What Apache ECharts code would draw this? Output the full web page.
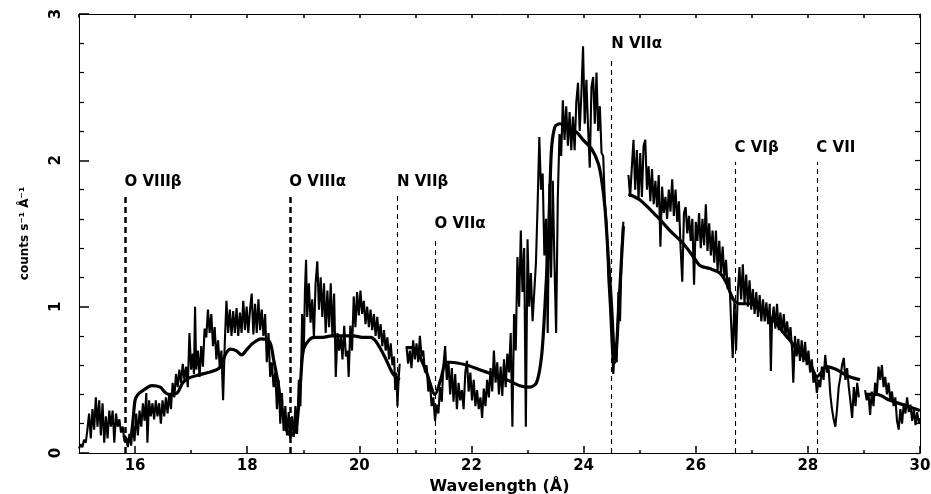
<!DOCTYPE html>
<html>
<head>
<meta charset="utf-8">
<script src="https://cdn.jsdelivr.net/npm/echarts@6/dist/echarts.min.js"></script>
<style>
html,body{margin:0;padding:0;background:#fff;}
#chart{width:931px;height:494px;}
</style>
</head>
<body>
<div id="chart"></div>
<script>
// ---- observed spectrum (wavelength Å, counts s^-1 Å^-1), four contiguous segments ----
const spec1 = [
[15.00,0.03],[15.03,0.06],[15.06,0.04],[15.09,0.09],[15.12,0.07],[15.15,0.16],[15.18,0.27],[15.21,0.10],
[15.24,0.30],[15.27,0.16],[15.30,0.38],[15.33,0.18],[15.36,0.36],[15.39,0.12],[15.42,0.34],[15.45,0.07],
[15.48,0.25],[15.51,0.10],[15.54,0.29],[15.57,0.18],[15.60,0.29],[15.63,0.07],[15.66,0.27],[15.69,0.18],
[15.72,0.23],[15.75,0.14],[15.78,0.18],[15.81,0.08],[15.84,0.11],[15.87,0.04],[15.90,0.13],[15.93,0.05],
[15.96,0.20],[15.99,0.08],[16.02,0.27],[16.05,0.12],[16.08,0.29],[16.11,0.18],[16.14,0.34],[16.17,0.22],
[16.20,0.41],[16.22,0.07],[16.25,0.36],[16.28,0.25],[16.31,0.34],[16.34,0.23],[16.37,0.36],[16.40,0.25],
[16.43,0.34],[16.46,0.20],[16.49,0.36],[16.52,0.25],[16.55,0.38],[16.58,0.27],[16.61,0.41],[16.64,0.30],
[16.67,0.48],[16.70,0.38],[16.73,0.54],[16.76,0.45],[16.79,0.57],[16.82,0.48],[16.85,0.61],[16.88,0.50],
[16.91,0.59],[16.94,0.45],[16.97,0.82],[17.00,0.57],[17.03,0.68],[17.05,0.54],[17.07,1.00],[17.09,0.57],
[17.12,0.70],[17.15,0.52],[17.18,0.73],[17.21,0.59],[17.24,0.85],[17.27,0.79],[17.30,0.98],[17.33,0.82],
[17.36,0.95],[17.39,0.73],[17.42,0.86],[17.45,0.64],[17.48,0.77],[17.51,0.59],[17.54,0.70],[17.57,0.36],
[17.60,0.75],[17.63,1.04],[17.66,0.82],[17.69,0.98],[17.72,0.80],[17.75,0.97],[17.78,0.82],[17.81,0.99],
[17.84,0.80],[17.87,0.96],[17.90,0.82],[17.93,1.04],[17.96,0.84],[17.99,1.00],[18.02,0.82],[18.05,0.98],
[18.08,1.09],[18.11,0.81],[18.14,1.02],[18.17,0.82],[18.20,1.05],[18.23,0.84],[18.26,0.98],[18.29,0.80],
[18.32,0.95],[18.35,0.62],[18.38,0.82],[18.41,0.52],[18.44,0.62],[18.47,0.45],[18.50,0.55],[18.53,0.30],
[18.56,0.50],[18.59,0.20],[18.62,0.41],[18.65,0.15],[18.68,0.32],[18.71,0.12],[18.74,0.28],[18.77,0.10],
[18.80,0.25],[18.83,0.11],[18.86,0.32],[18.89,0.13],[18.92,0.50],[18.95,0.32],[18.98,0.95],[19.01,0.70],
[19.03,1.11],[19.05,1.32],[19.07,0.93],[19.10,1.16],[19.13,0.89],[19.16,1.05],[19.19,0.79],[19.22,1.16],
[19.25,1.31],[19.28,0.98],[19.31,1.20],[19.34,0.93],[19.37,1.16],[19.40,0.82],[19.43,1.11],[19.46,0.86],
[19.49,1.16],[19.52,0.80],[19.55,1.09],[19.58,0.52],[19.61,0.82],[19.64,0.70],[19.67,0.80],[19.70,0.64],
[19.73,0.87],[19.76,0.66],[19.79,0.70],[19.81,0.52],[19.84,0.87],[19.87,0.70],[19.90,1.07],[19.93,0.86],
[19.96,1.10],[19.99,0.94],[20.02,1.11],[20.05,0.95],[20.08,1.04],[20.11,0.88],[20.14,1.00],[20.17,0.86],
[20.20,0.98],[20.23,0.84],[20.26,0.95],[20.29,0.80],[20.32,0.93],[20.35,0.78],[20.38,0.88],[20.41,0.73],
[20.44,0.84],[20.47,0.70],[20.50,0.79],[20.53,0.64],[20.56,0.75],[20.59,0.60],[20.62,0.66],[20.64,0.43],
[20.66,0.55],[20.68,0.32],[20.70,0.50],[20.72,0.61]
];
const spec2 = [
[20.84,0.73],[20.87,0.61],[20.90,0.70],[20.93,0.58],[20.96,0.77],[20.99,0.64],[21.02,0.75],[21.05,0.62],
[21.08,0.80],[21.11,0.66],[21.14,0.70],[21.17,0.55],[21.20,0.60],[21.23,0.42],[21.26,0.48],[21.29,0.32],
[21.32,0.38],[21.35,0.22],[21.38,0.33],[21.41,0.27],[21.44,0.45],[21.47,0.35],[21.50,0.60],[21.53,0.73],
[21.56,0.50],[21.59,0.62],[21.62,0.40],[21.65,0.58],[21.68,0.35],[21.71,0.54],[21.74,0.30],[21.77,0.48],
[21.80,0.36],[21.83,0.43],[21.86,0.30],[21.89,0.55],[21.92,0.63],[21.95,0.42],[21.98,0.55],[22.01,0.36],
[22.04,0.50],[22.07,0.32],[22.10,0.43],[22.13,0.30],[22.16,0.38],[22.19,0.24],[22.22,0.44],[22.25,0.32],
[22.28,0.50],[22.31,0.38],[22.34,0.58],[22.37,0.42],[22.40,0.70],[22.43,0.48],[22.46,0.62],[22.49,0.40],
[22.52,0.59],[22.55,0.39],[22.58,0.64],[22.61,0.45],[22.64,0.68],[22.67,0.55],[22.70,0.82],[22.73,0.18],
[22.76,0.95],[22.79,0.70],[22.82,1.34],[22.85,1.00],[22.88,1.52],[22.91,1.10],[22.94,1.40],[22.97,0.18],
[23.00,1.46],[23.03,1.00],[23.06,1.23],[23.09,0.90],[23.12,1.10],[23.15,1.30],[23.18,1.70],[23.21,2.16],
[23.24,1.80],[23.27,1.91],[23.30,1.35],[23.33,1.60],[23.36,0.82],[23.39,1.84],[23.42,1.20],[23.45,1.86],
[23.48,1.30],[23.51,0.82],[23.54,1.75],[23.57,2.18],[23.60,2.03],[23.63,2.41],[23.66,2.14],[23.69,2.37],
[23.72,2.10],[23.75,2.33],[23.78,2.07],[23.81,2.30],[23.84,2.07],[23.87,2.40],[23.90,2.53],[23.93,2.20],
[23.96,2.45],[23.99,2.78],[24.02,2.25],[24.05,2.55],[24.08,2.22],[24.11,1.95],[24.14,2.50],[24.17,2.57],
[24.20,2.25],[24.23,2.60],[24.26,2.20],[24.29,2.37],[24.32,2.05],[24.35,2.03],[24.38,1.70],[24.41,1.57],
[24.44,1.20],[24.47,1.00],[24.50,0.75],[24.53,0.54],[24.56,0.75],[24.59,0.62],[24.62,1.10],[24.65,0.90],
[24.68,1.40],[24.71,1.58]
];
const spec3 = [
[24.80,1.90],[24.83,1.75],[24.86,1.95],[24.89,2.14],[24.92,1.80],[24.95,2.07],[24.98,1.73],[25.01,2.05],
[25.04,1.75],[25.07,2.10],[25.10,2.14],[25.13,1.80],[25.16,1.96],[25.19,1.72],[25.22,1.94],[25.25,1.70],
[25.28,1.86],[25.31,1.68],[25.34,1.90],[25.37,1.41],[25.40,1.82],[25.43,1.64],[25.46,1.75],[25.49,1.60],
[25.52,1.80],[25.55,1.65],[25.58,1.87],[25.61,1.62],[25.64,1.80],[25.67,1.58],[25.70,1.72],[25.73,1.40],
[25.76,1.17],[25.79,1.64],[25.82,1.68],[25.85,1.50],[25.88,1.62],[25.91,1.45],[25.94,1.60],[25.97,1.15],
[26.00,1.58],[26.03,1.45],[26.06,1.64],[26.09,1.40],[26.12,1.60],[26.15,1.42],[26.18,1.70],[26.21,1.38],
[26.24,1.57],[26.27,1.35],[26.30,1.52],[26.33,1.30],[26.36,1.52],[26.39,1.25],[26.42,1.45],[26.45,1.22],
[26.48,1.41],[26.51,1.20],[26.54,1.32],[26.57,1.12],[26.60,1.20],[26.63,0.90],[26.66,0.65],[26.69,1.05],
[26.72,0.70],[26.75,1.10],[26.78,1.27],[26.81,1.05],[26.84,1.29],[26.87,1.02],[26.90,1.22],[26.93,1.00],
[26.96,1.18],[26.99,0.98],[27.02,1.12],[27.05,0.95],[27.08,1.10],[27.11,0.93],[27.14,1.08],[27.17,0.90],
[27.20,1.05],[27.23,0.90],[27.26,1.03],[27.29,0.88],[27.32,1.02],[27.34,0.56],[27.36,0.90],[27.39,1.00],
[27.42,0.85],[27.45,1.02],[27.48,0.84],[27.51,0.96],[27.54,0.82],[27.57,0.95],[27.60,0.80],[27.63,0.90],
[27.66,0.78],[27.69,0.86],[27.72,0.70],[27.74,0.48],[27.77,0.80],[27.80,0.66],[27.83,0.78],[27.86,0.63],
[27.89,0.77],[27.92,0.62],[27.95,0.76],[27.98,0.60],[28.01,0.70],[28.04,0.55],[28.07,0.64],[28.10,0.48],
[28.13,0.55],[28.16,0.41],[28.19,0.50],[28.22,0.45],[28.25,0.59],[28.28,0.50],[28.31,0.67],[28.34,0.55],
[28.37,0.58],[28.40,0.40],[28.43,0.30],[28.46,0.23],[28.49,0.18],[28.52,0.30],[28.55,0.45],[28.58,0.52],
[28.61,0.60],[28.64,0.65],[28.67,0.50],[28.70,0.58],[28.73,0.45],[28.76,0.35],[28.79,0.24],[28.82,0.45],
[28.85,0.32],[28.88,0.48],[28.91,0.38]
];
const spec4 = [
[29.02,0.43],[29.05,0.36],[29.08,0.41],[29.11,0.26],[29.14,0.42],[29.17,0.32],[29.20,0.48],[29.23,0.40],
[29.26,0.59],[29.29,0.50],[29.32,0.60],[29.35,0.45],[29.38,0.52],[29.41,0.40],[29.44,0.48],[29.47,0.36],
[29.50,0.42],[29.53,0.32],[29.56,0.38],[29.59,0.22],[29.62,0.16],[29.65,0.30],[29.68,0.20],[29.71,0.34],
[29.74,0.27],[29.77,0.38],[29.80,0.28],[29.83,0.33],[29.86,0.22],[29.89,0.30],[29.92,0.19],[29.95,0.28],
[29.98,0.20],[30.00,0.24]
];
// ---- model curve segments ----
const model1 = [
[15.80,0.12],[15.88,0.08],[15.93,0.12],[15.97,0.25],[16.00,0.36],[16.05,0.40],[16.15,0.43],[16.30,0.46],
[16.45,0.45],[16.52,0.42],[16.60,0.40],[16.75,0.41],[16.85,0.48],[16.95,0.51],[17.10,0.53],[17.30,0.55],
[17.50,0.58],[17.62,0.68],[17.70,0.71],[17.80,0.70],[17.90,0.67],[18.00,0.71],[18.10,0.75],[18.25,0.78],
[18.40,0.76],[18.47,0.64],[18.55,0.48],[18.62,0.29],[18.70,0.16],[18.78,0.12],[18.87,0.16],[18.95,0.48],
[19.00,0.70],[19.10,0.77],[19.20,0.79],[19.35,0.79],[19.50,0.80],[19.70,0.80],[19.90,0.80],[20.05,0.79],
[20.20,0.79],[20.30,0.76],[20.45,0.66],[20.60,0.54],[20.72,0.50]
];
const model2 = [
[20.84,0.72],[20.95,0.72],[21.05,0.68],[21.20,0.55],[21.35,0.40],[21.45,0.50],[21.55,0.62],[21.62,0.62],
[21.92,0.60],[22.21,0.56],[22.51,0.52],[22.69,0.49],[22.86,0.46],[23.04,0.45],[23.16,0.48],[23.25,0.66],
[23.31,1.00],[23.37,1.46],[23.40,1.80],[23.43,2.09],[23.49,2.23],[23.58,2.25],[23.70,2.23],[23.88,2.19],
[23.99,2.14],[24.14,2.08],[24.26,1.98],[24.32,1.87],[24.38,1.68],[24.44,1.34],[24.50,1.00],[24.53,0.77],
[24.56,0.62],[24.60,0.80],[24.65,1.15],[24.71,1.55]
];
const model3 = [
[24.80,1.77],[25.00,1.73],[25.30,1.62],[25.54,1.52],[25.78,1.43],[25.96,1.34],[26.08,1.28],[26.25,1.26],
[26.43,1.23],[26.55,1.16],[26.67,1.05],[26.79,1.02],[26.97,1.02],[27.15,0.98],[27.38,0.91],[27.59,0.81],
[27.68,0.77],[27.86,0.68],[28.04,0.61],[28.16,0.52],[28.24,0.55],[28.33,0.59],[28.51,0.57],[28.69,0.53],
[28.93,0.50]
];
const model4 = [[29.02,0.40],[29.23,0.40],[29.46,0.36],[29.70,0.33],[30.00,0.29]];

// ---- line identifications ----
const lineNames = ['O VIIIβ','O VIIIα','N VIIβ','O VIIα','N VIIα','C VIβ','C VII'];
const lineWaves = [15.82, 18.76, 20.68, 21.35, 24.50, 26.70, 28.16];
const lineTops  = [1.76, 1.76, 1.76, 1.47, 2.70, 1.99, 1.99];
const lineBold  = [true, true, false, false, false, false, false];

// ---- axis ticks ----
const xLabelTicks = [16,18,20,22,24,26,28,30];
const xMinorTicks = [17,19,21,23,25,27,29];

const FONT = 'DejaVu Sans';
const chart = echarts.init(document.getElementById('chart'), null, {renderer:'canvas'});

const specSeries = [spec1,spec2,spec3,spec4].map(d => ({
  type:'line', data:d, symbol:'none', xAxisIndex:0, yAxisIndex:0,
  lineStyle:{color:'#000', width:2.1}, z:2, silent:true, animation:false
}));
const modelSeries = [model1,model2,model3,model4].map(d => ({
  type:'line', data:d, symbol:'none', xAxisIndex:0, yAxisIndex:0, smooth:0.3,
  lineStyle:{color:'#000', width:3.2}, z:3, silent:true, animation:false
}));

const markLines = lineWaves.map((w,i) => ([
  {coord:[w,0], lineStyle:{type:lineBold[i]?[6,4]:[5,4], width:lineBold[i]?2.5:1.1, color:'#000'}},
  {coord:[w,lineTops[i]]}
]));

const option = {
  backgroundColor:'#fff',
  animation:false,
  grid:{left:79, right:11, top:14, bottom:41, containLabel:false, outerBoundsMode:'none'},
  xAxis:[
    {type:'value', min:15, max:30, interval:1, position:'bottom',
     name:'Wavelength (Å)', nameLocation:'middle', nameGap:22,
     nameTextStyle:{fontFamily:FONT, fontWeight:'bold', fontSize:16, color:'#000'},
     axisLine:{show:true, lineStyle:{color:'#000', width:1}},
     axisTick:{show:true, inside:true, length:7, customValues:xLabelTicks, lineStyle:{color:'#000', width:1.5}},
     axisLabel:{show:true, customValues:xLabelTicks, margin:6, fontFamily:FONT, fontWeight:'bold', fontSize:15, color:'#000'},
     splitLine:{show:false}},
    {type:'value', min:15, max:30, interval:1, position:'bottom',
     axisLine:{show:false},
     axisTick:{show:true, inside:true, length:3, customValues:xMinorTicks, lineStyle:{color:'#000', width:1.5}},
     axisLabel:{show:false}, splitLine:{show:false}},
    {type:'value', min:15, max:30, interval:1, position:'top',
     axisLine:{show:true, lineStyle:{color:'#000', width:1}},
     axisTick:{show:true, inside:true, length:4, lineStyle:{color:'#000', width:1.5}},
     axisLabel:{show:false}, splitLine:{show:false}}
  ],
  yAxis:[
    {type:'value', min:0, max:3, interval:1, position:'left',
     name:'counts s⁻¹ Å⁻¹', nameLocation:'middle', nameGap:48, nameRotate:90,
     nameTextStyle:{fontFamily:FONT, fontWeight:'bold', fontSize:12, color:'#000'},
     axisLine:{show:true, lineStyle:{color:'#000', width:1}},
     axisTick:{show:true, inside:true, length:10, lineStyle:{color:'#000', width:1.5}},
     minorTick:{show:true, splitNumber:5, length:5, lineStyle:{color:'#000', width:1.2}},
     axisLabel:{show:true, rotate:90, margin:15, fontFamily:FONT, fontWeight:'bold', fontSize:15, color:'#000'},
     splitLine:{show:false}, minorSplitLine:{show:false}},
    {type:'value', min:0, max:3, interval:0.2, position:'right',
     axisLine:{show:true, lineStyle:{color:'#000', width:1}},
     axisTick:{show:true, inside:true, length:5, lineStyle:{color:'#000', width:1.2}},
     axisLabel:{show:false}, splitLine:{show:false}}
  ],
  series:[
    ...specSeries,
    ...modelSeries,
    {type:'line', data:[], xAxisIndex:0, yAxisIndex:0, silent:true,
     markLine:{symbol:['none','none'], silent:true, animation:false, label:{show:false}, data:markLines}},
    {type:'scatter', xAxisIndex:0, yAxisIndex:0, symbolSize:1, silent:true, z:5,
     itemStyle:{color:'rgba(0,0,0,0)'},
     data:lineWaves.map((w,i)=>({name:lineNames[i], value:[w, lineTops[i]]})),
     label:{show:true, position:[0,-13], align:'left', verticalAlign:'middle', opacity:1,
            textBorderWidth:0, formatter:p=>p.name, fontFamily:FONT, fontWeight:'bold', fontSize:15, color:'#000'}}
  ]
};
chart.setOption(option);
</script>
</body>
</html>
